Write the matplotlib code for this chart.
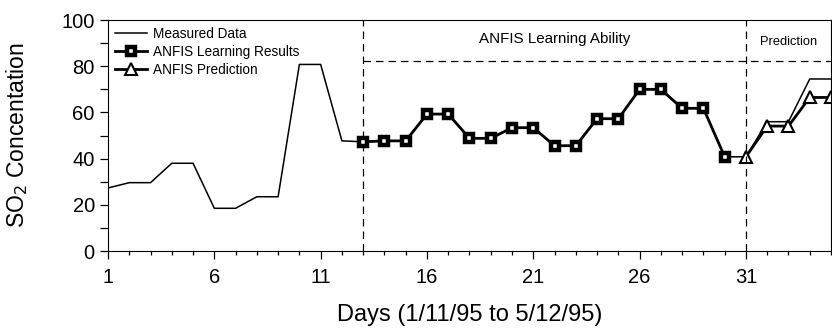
import matplotlib.pyplot as plt
from matplotlib.ticker import MultipleLocator

plt.rcParams['font.family'] = ['Liberation Sans', 'DejaVu Sans']

days = list(range(1, 36))
measured = [27.3, 29.6, 29.6, 38, 38, 18.5, 18.5, 23.5, 23.5, 80.8, 80.8, 47.7,
            47.3, 47.7, 47.7, 59.3, 59.3, 48.8, 48.8, 53.4, 53.4, 45.6, 45.6,
            57.3, 57.3, 70, 70, 61.8, 61.8, 40.8, 40.8, 56, 56, 74.5, 74.5]
learn_days = list(range(13, 31))
learn_vals = [47.3, 47.7, 47.7, 59.3, 59.3, 48.8, 48.8, 53.4, 53.4, 45.6, 45.6,
              57.3, 57.3, 70, 70, 61.8, 61.8, 40.8]
pred_days = [31, 32, 33, 34, 35]
pred_vals = [40.8, 54.1, 54.1, 66.5, 66.5]

fig = plt.figure(figsize=(8.32, 3.35), dpi=100)
ax = fig.add_axes([0.1298, 0.2507, 0.869, 0.6893])

ax.plot(days, measured, color='black', lw=1.1, label='Measured Data')
ax.plot(learn_days, learn_vals, color='black', lw=2, marker='s', ms=6.2,
        mfc='white', mec='black', mew=3.2, label='ANFIS Learning Results')
ax.plot(pred_days, pred_vals, color='black', lw=2, marker='^', ms=8.5,
        mfc='white', mec='black', mew=1.5, label='ANFIS Prediction')

# region separators
ax.axvline(13, color='black', lw=0.9, ls=(0, (6, 4)))
ax.axvline(31, color='black', lw=0.9, ls=(0, (6, 4)))
ax.plot([13, 35], [82.3, 82.3], color='black', lw=0.9, ls=(0, (6, 4)))
ax.text(22, 91.8, 'ANFIS Learning Ability', ha='center', va='center', fontsize=10.9)
ax.text(33, 90.5, 'Prediction', ha='center', va='center', fontsize=9.3)

ax.set_xlim(1, 35)
ax.set_ylim(0, 100)
ax.set_xticks(list(range(1, 36, 5)))
ax.xaxis.set_minor_locator(MultipleLocator(1))
ax.yaxis.set_major_locator(MultipleLocator(20))
ax.yaxis.set_minor_locator(MultipleLocator(10))
ax.tick_params(axis='both', which='major', labelsize=14.5, length=6, width=0.9)
ax.tick_params(axis='x', which='major', pad=6)
ax.tick_params(axis='y', which='minor', length=6, width=0.9)
ax.tick_params(axis='x', which='minor', length=3, width=0.9)

ax.set_xlabel('Days (1/11/95 to 5/12/95)', fontsize=17)
ax.xaxis.set_label_coords(0.5, -0.228)
ax.set_ylabel('SO$_2$ Concentation', fontsize=16.5)
ax.yaxis.set_label_coords(-0.108, 0.5)

ax.legend(loc='upper left', frameon=False, fontsize=9.8, handlelength=2.4,
          labelspacing=0.3, borderaxespad=0.3, handletextpad=0.4,
          borderpad=0.2)

fig.savefig('out.png', dpi=100)
